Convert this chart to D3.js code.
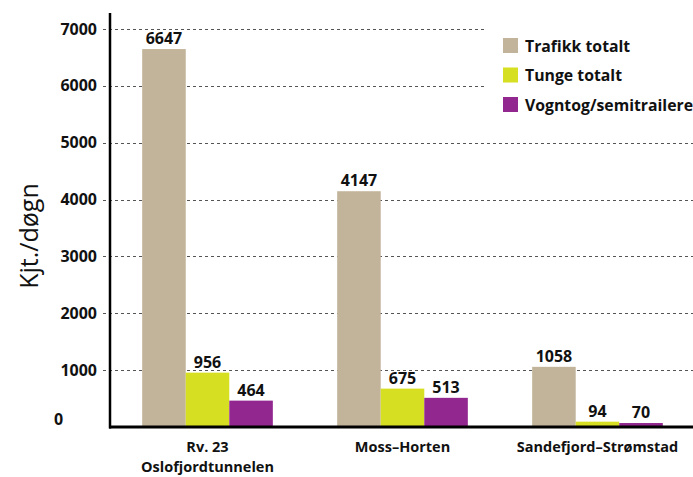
<!DOCTYPE html>
<html><head><meta charset="utf-8">
<script src="https://cdn.jsdelivr.net/npm/d3@7"></script>
<style>body{margin:0;background:#fff}svg{display:block}text{font-family:"Open Sans",sans-serif}</style>
</head><body>
<svg id="c" width="693" height="477"></svg>
<script>
const categories = ["Rv. 23\nOslofjordtunnelen", "Moss–Horten", "Sandefjord–Strømstad"];
const seriesNames = ["Trafikk totalt", "Tunge totalt", "Vogntog/semitrailere"];
const trafikkTotalt = [6647, 4147, 1058];
const tungeTotalt = [956, 675, 94];
const vogntog = [464, 513, 70];
const yTicks = [1000, 2000, 3000, 4000, 5000, 6000, 7000];
const colors = ["#C2B49A", "#D7DF23", "#92278F"];
const series = [trafikkTotalt, tungeTotalt, vogntog];

const svg = d3.select("#c");
const x0 = 110, yBase = 427;
const y = d3.scaleLinear().domain([0, 7000]).range([yBase, 29]);
const x = d3.scaleBand().domain(categories).range([111, 694]).paddingInner(0.33).paddingOuter(0.16);
const xs = d3.scaleBand().domain(seriesNames).range([0, x.bandwidth()]);

// gridlines
const grid = svg.append("g");
yTicks.forEach(t => {
  grid.append("line").attr("x1", 103).attr("x2", 693).attr("y1", Math.round(y(t)) + 0.5).attr("y2", Math.round(y(t)) + 0.5)
    .attr("stroke", "#555").attr("stroke-width", 1).attr("stroke-dasharray", "3,3");
});
// tick labels
const tl = svg.append("g").attr("font-weight", "bold").attr("font-size", 16).attr("fill", "#111");
yTicks.forEach(t => {
  tl.append("text").attr("x", 97).attr("y", y(t)).attr("dy", "0.35em").attr("text-anchor", "end").text(t);
});
tl.append("text").attr("x", 54).attr("y", yBase - 2).text("0");

// legend background
svg.append("rect").attr("x", 484).attr("y", 20).attr("width", 209).attr("height", 100).attr("fill", "#fff");

// bars
const groups = svg.append("g").selectAll("g").data(categories).join("g")
  .attr("transform", d => `translate(${x(d)},0)`);
series.forEach((vals, si) => {
  groups.append("rect")
    .attr("x", xs(seriesNames[si])).attr("width", xs.bandwidth())
    .attr("y", (d, i) => y(vals[i])).attr("height", (d, i) => yBase - y(vals[i]))
    .attr("fill", colors[si]);
  groups.append("text")
    .attr("x", xs(seriesNames[si]) + xs.bandwidth() / 2).attr("y", (d, i) => y(vals[i]) - 5)
    .attr("text-anchor", "middle").attr("font-weight", "bold").attr("font-size", 16).attr("fill", "#111")
    .text((d, i) => vals[i]);
});

// axes lines
svg.append("line").attr("x1", x0).attr("x2", x0).attr("y1", 13).attr("y2", yBase + 1.5).attr("stroke", "#000").attr("stroke-width", 2.5);
svg.append("line").attr("x1", x0 - 1).attr("x2", 693).attr("y1", yBase).attr("y2", yBase).attr("stroke", "#000").attr("stroke-width", 3);

// category labels
categories.forEach(c => {
  const lines = c.split("\n");
  const t = svg.append("text").attr("x", x(c) + x.bandwidth() / 2).attr("y", 452)
    .attr("text-anchor", "middle").attr("font-weight", "bold").attr("font-size", 14.5).attr("fill", "#111");
  lines.forEach((l, i) => t.append("tspan").attr("x", x(c) + x.bandwidth() / 2).attr("dy", i ? 19.8 : 0).text(l));
});

// y title
svg.append("text").attr("transform", "translate(38,236) rotate(-90)").attr("text-anchor", "middle")
  .attr("font-size", 25).attr("fill", "#111").text("Kjt./døgn");

// legend
const lg = svg.append("g");
seriesNames.forEach((n, i) => {
  lg.append("rect").attr("x", 503).attr("y", 38 + i * 29.5).attr("width", 15).attr("height", 15).attr("fill", colors[i]);
  lg.append("text").attr("x", 525).attr("y", 46 + i * 29.5).attr("dy", "0.35em").attr("font-weight", "bold").attr("font-size", 15.8).attr("fill", "#111").text(n);
});
</script>
</body></html>
